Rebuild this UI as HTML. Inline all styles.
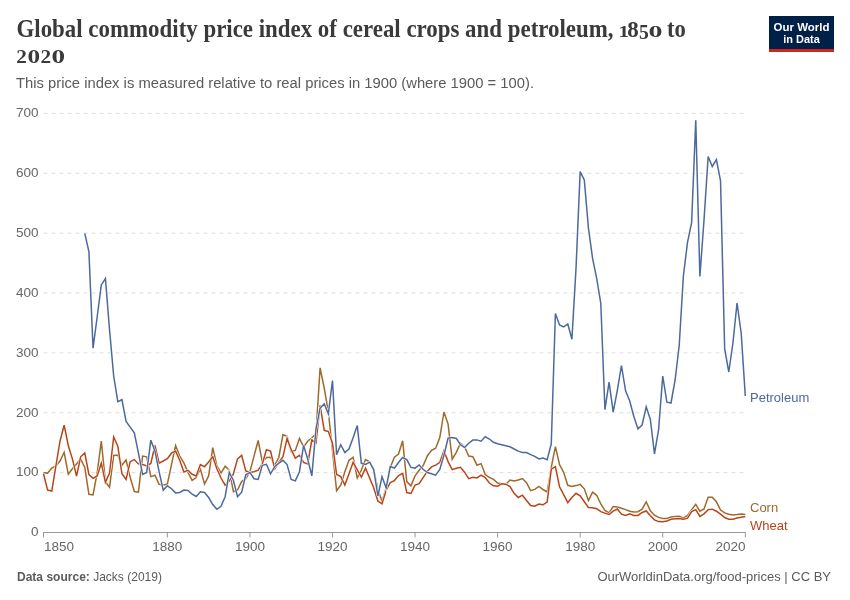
<!DOCTYPE html>
<html><head><meta charset="utf-8">
<style>
html,body{margin:0;padding:0;background:#fff;}
body{width:850px;height:600px;overflow:hidden;position:relative;}
svg{position:absolute;left:0;top:0;will-change:transform;}
.t{font-family:"Liberation Serif",serif;font-weight:bold;fill:#3a3a3a;}
.s{font-family:"Liberation Sans",sans-serif;}
</style></head><body>
<svg width="850" height="600" viewBox="0 0 850 600">
<text class="t" x="16.5" y="36.6" font-size="24.5" textLength="597" lengthAdjust="spacingAndGlyphs">Global commodity price index of cereal crops and petroleum,</text>
<text class="t" x="618.6" y="36.6" font-size="17.5" textLength="10.5" lengthAdjust="spacingAndGlyphs">1</text>
<text class="t" x="627.3" y="36.6" font-size="23.7" textLength="11.5" lengthAdjust="spacingAndGlyphs">8</text>
<text class="t" x="639" y="39.4" font-size="21" textLength="9.8" lengthAdjust="spacingAndGlyphs">5</text>
<text class="t" x="648.5" y="36.6" font-size="17.5" textLength="14" lengthAdjust="spacingAndGlyphs">0</text>
<text class="t" x="667" y="36.6" font-size="24.5" textLength="18.8" lengthAdjust="spacingAndGlyphs">to</text>
<text class="t" x="16.3" y="63" font-size="18" textLength="10.6" lengthAdjust="spacingAndGlyphs">2</text>
<text class="t" x="27.6" y="63" font-size="18" textLength="12.6" lengthAdjust="spacingAndGlyphs">0</text>
<text class="t" x="40.6" y="63" font-size="18" textLength="10.6" lengthAdjust="spacingAndGlyphs">2</text>
<text class="t" x="51.4" y="63" font-size="18" textLength="13.6" lengthAdjust="spacingAndGlyphs">0</text>
<text class="s" x="16" y="87.6" font-size="14" fill="#5b5b5b" textLength="518" lengthAdjust="spacingAndGlyphs">This price index is measured relative to real prices in 1900 (where 1900 = 100).</text>
<g>
<rect x="769" y="16" width="65" height="36" fill="#002147"/>
<rect x="769" y="49" width="65" height="3" fill="#ce261e"/>
<text class="s" x="773.6" y="30.8" font-size="11.5" font-weight="bold" fill="#fff" textLength="55.8" lengthAdjust="spacingAndGlyphs">Our World</text>
<text class="s" x="783.2" y="42.7" font-size="11.5" font-weight="bold" fill="#fff" textLength="36.6" lengthAdjust="spacingAndGlyphs">in Data</text>
</g>
<g><line x1="43.5" x2="745.3" y1="472.63" y2="472.63" stroke="#dddddd" stroke-width="1" stroke-dasharray="4,4"/><line x1="43.5" x2="745.3" y1="412.76" y2="412.76" stroke="#dddddd" stroke-width="1" stroke-dasharray="4,4"/><line x1="43.5" x2="745.3" y1="352.89" y2="352.89" stroke="#dddddd" stroke-width="1" stroke-dasharray="4,4"/><line x1="43.5" x2="745.3" y1="293.01" y2="293.01" stroke="#dddddd" stroke-width="1" stroke-dasharray="4,4"/><line x1="43.5" x2="745.3" y1="233.14" y2="233.14" stroke="#dddddd" stroke-width="1" stroke-dasharray="4,4"/><line x1="43.5" x2="745.3" y1="173.27" y2="173.27" stroke="#dddddd" stroke-width="1" stroke-dasharray="4,4"/><line x1="43.5" x2="745.3" y1="113.40" y2="113.40" stroke="#dddddd" stroke-width="1" stroke-dasharray="4,4"/></g>
<line x1="43" x2="745.8" y1="532.5" y2="532.5" stroke="#999" stroke-width="1"/>
<g><line x1="43.50" x2="43.50" y1="532.5" y2="537.5" stroke="#999" stroke-width="1"/><line x1="167.35" x2="167.35" y1="532.5" y2="537.5" stroke="#999" stroke-width="1"/><line x1="249.91" x2="249.91" y1="532.5" y2="537.5" stroke="#999" stroke-width="1"/><line x1="332.48" x2="332.48" y1="532.5" y2="537.5" stroke="#999" stroke-width="1"/><line x1="415.04" x2="415.04" y1="532.5" y2="537.5" stroke="#999" stroke-width="1"/><line x1="497.61" x2="497.61" y1="532.5" y2="537.5" stroke="#999" stroke-width="1"/><line x1="580.17" x2="580.17" y1="532.5" y2="537.5" stroke="#999" stroke-width="1"/><line x1="662.74" x2="662.74" y1="532.5" y2="537.5" stroke="#999" stroke-width="1"/><line x1="745.30" x2="745.30" y1="532.5" y2="537.5" stroke="#999" stroke-width="1"/></g>
<g class="s" font-size="13.5" fill="#666"><text x="38.5" y="536.30" text-anchor="end">0</text><text x="38.5" y="476.43" text-anchor="end">100</text><text x="38.5" y="416.56" text-anchor="end">200</text><text x="38.5" y="356.69" text-anchor="end">300</text><text x="38.5" y="296.81" text-anchor="end">400</text><text x="38.5" y="236.94" text-anchor="end">500</text><text x="38.5" y="177.07" text-anchor="end">600</text><text x="38.5" y="117.20" text-anchor="end">700</text><text x="167.35" y="550.5" text-anchor="middle">1880</text><text x="249.91" y="550.5" text-anchor="middle">1900</text><text x="332.48" y="550.5" text-anchor="middle">1920</text><text x="415.04" y="550.5" text-anchor="middle">1940</text><text x="497.61" y="550.5" text-anchor="middle">1960</text><text x="580.17" y="550.5" text-anchor="middle">1980</text><text x="662.74" y="550.5" text-anchor="middle">2000</text><text x="44" y="550.5" text-anchor="start">1850</text><text x="745.5" y="550.5" text-anchor="end">2020</text></g>
<g fill="none" stroke-width="1.5" stroke-linejoin="miter" stroke-linecap="butt">
<polyline points="43.50,472.80 47.63,473.10 51.76,468.10 55.88,466.00 60.01,461.00 64.14,452.30 68.27,474.20 72.40,468.80 76.53,463.90 80.65,458.90 84.78,467.40 88.91,494.30 93.04,495.00 97.17,473.00 101.30,441.20 105.42,481.60 109.55,487.20 113.68,455.40 117.81,455.10 121.94,465.30 126.06,460.00 130.19,477.30 134.32,491.50 138.45,492.20 142.58,456.10 146.71,456.80 150.83,476.60 154.96,475.20 159.09,484.40 163.22,485.10 167.35,484.10 171.48,464.60 175.60,445.50 179.73,456.10 183.86,462.90 187.99,472.40 192.12,480.40 196.24,477.60 200.37,469.00 204.50,484.00 208.63,475.90 212.76,447.60 216.89,466.00 221.01,473.10 225.14,466.30 229.27,470.20 233.40,491.70 237.53,490.00 241.66,481.60 245.78,478.70 249.91,471.70 254.04,456.10 258.17,440.50 262.30,462.00 266.42,457.50 270.55,457.20 274.68,465.30 278.81,457.50 282.94,434.80 287.07,436.20 291.19,451.50 295.32,450.40 299.45,438.40 303.58,446.90 307.71,441.20 311.84,437.70 315.96,434.00 320.09,367.80 324.22,388.00 328.35,412.00 332.48,450.40 336.60,490.80 340.73,485.10 344.86,471.70 348.99,460.30 353.12,457.30 357.25,478.00 361.37,470.00 365.50,459.50 369.63,461.80 373.76,470.00 377.89,489.00 382.02,501.50 386.14,488.00 390.27,467.50 394.40,457.20 398.53,454.00 402.66,440.80 406.78,481.60 410.91,485.80 415.04,475.90 419.17,470.20 423.30,465.30 427.43,455.70 431.55,450.30 435.68,448.20 439.81,437.50 443.94,412.00 448.07,424.10 452.20,459.20 456.32,452.40 460.45,443.20 464.58,446.70 468.71,456.00 472.84,456.70 476.96,465.20 481.09,463.60 485.22,474.50 489.35,477.30 493.48,479.40 497.61,483.00 501.73,483.70 505.86,484.40 509.99,480.00 514.12,481.00 518.25,480.00 522.38,478.50 526.50,482.70 530.63,490.60 534.76,489.40 538.89,486.50 543.02,489.50 547.14,492.00 551.27,467.30 555.40,446.70 559.53,464.60 563.66,472.30 567.79,485.30 571.91,486.50 576.04,485.60 580.17,484.40 584.30,488.80 588.43,500.50 592.56,492.10 596.68,495.30 600.81,504.00 604.94,510.50 609.07,513.00 613.20,506.50 617.32,507.10 621.45,508.30 625.58,509.60 629.71,511.25 633.84,512.10 637.97,511.70 642.09,509.20 646.22,501.80 650.35,510.80 654.48,515.20 658.61,517.40 662.74,518.40 666.86,518.50 670.99,517.10 675.12,516.50 679.25,516.25 683.38,517.90 687.50,515.40 691.63,509.60 695.76,504.30 699.89,511.25 704.02,509.00 708.15,497.30 712.27,497.30 716.40,501.80 720.53,510.00 724.66,512.90 728.79,514.20 732.92,515.00 737.04,514.60 741.17,514.00 745.30,514.60" stroke="#fff" stroke-width="2.5"/>
<polyline points="43.50,472.80 47.63,473.10 51.76,468.10 55.88,466.00 60.01,461.00 64.14,452.30 68.27,474.20 72.40,468.80 76.53,463.90 80.65,458.90 84.78,467.40 88.91,494.30 93.04,495.00 97.17,473.00 101.30,441.20 105.42,481.60 109.55,487.20 113.68,455.40 117.81,455.10 121.94,465.30 126.06,460.00 130.19,477.30 134.32,491.50 138.45,492.20 142.58,456.10 146.71,456.80 150.83,476.60 154.96,475.20 159.09,484.40 163.22,485.10 167.35,484.10 171.48,464.60 175.60,445.50 179.73,456.10 183.86,462.90 187.99,472.40 192.12,480.40 196.24,477.60 200.37,469.00 204.50,484.00 208.63,475.90 212.76,447.60 216.89,466.00 221.01,473.10 225.14,466.30 229.27,470.20 233.40,491.70 237.53,490.00 241.66,481.60 245.78,478.70 249.91,471.70 254.04,456.10 258.17,440.50 262.30,462.00 266.42,457.50 270.55,457.20 274.68,465.30 278.81,457.50 282.94,434.80 287.07,436.20 291.19,451.50 295.32,450.40 299.45,438.40 303.58,446.90 307.71,441.20 311.84,437.70 315.96,434.00 320.09,367.80 324.22,388.00 328.35,412.00 332.48,450.40 336.60,490.80 340.73,485.10 344.86,471.70 348.99,460.30 353.12,457.30 357.25,478.00 361.37,470.00 365.50,459.50 369.63,461.80 373.76,470.00 377.89,489.00 382.02,501.50 386.14,488.00 390.27,467.50 394.40,457.20 398.53,454.00 402.66,440.80 406.78,481.60 410.91,485.80 415.04,475.90 419.17,470.20 423.30,465.30 427.43,455.70 431.55,450.30 435.68,448.20 439.81,437.50 443.94,412.00 448.07,424.10 452.20,459.20 456.32,452.40 460.45,443.20 464.58,446.70 468.71,456.00 472.84,456.70 476.96,465.20 481.09,463.60 485.22,474.50 489.35,477.30 493.48,479.40 497.61,483.00 501.73,483.70 505.86,484.40 509.99,480.00 514.12,481.00 518.25,480.00 522.38,478.50 526.50,482.70 530.63,490.60 534.76,489.40 538.89,486.50 543.02,489.50 547.14,492.00 551.27,467.30 555.40,446.70 559.53,464.60 563.66,472.30 567.79,485.30 571.91,486.50 576.04,485.60 580.17,484.40 584.30,488.80 588.43,500.50 592.56,492.10 596.68,495.30 600.81,504.00 604.94,510.50 609.07,513.00 613.20,506.50 617.32,507.10 621.45,508.30 625.58,509.60 629.71,511.25 633.84,512.10 637.97,511.70 642.09,509.20 646.22,501.80 650.35,510.80 654.48,515.20 658.61,517.40 662.74,518.40 666.86,518.50 670.99,517.10 675.12,516.50 679.25,516.25 683.38,517.90 687.50,515.40 691.63,509.60 695.76,504.30 699.89,511.25 704.02,509.00 708.15,497.30 712.27,497.30 716.40,501.80 720.53,510.00 724.66,512.90 728.79,514.20 732.92,515.00 737.04,514.60 741.17,514.00 745.30,514.60" stroke="#9e6a2c"/>
<polyline points="43.50,473.70 47.63,490.10 51.76,491.10 55.88,466.00 60.01,441.20 64.14,425.20 68.27,445.50 72.40,458.90 76.53,476.20 80.65,456.80 84.78,453.00 88.91,474.50 93.04,478.30 97.17,475.90 101.30,463.20 105.42,482.30 109.55,473.10 113.68,437.00 117.81,446.20 121.94,473.80 126.06,479.40 130.19,461.70 134.32,459.60 138.45,463.90 142.58,464.60 146.71,466.00 150.83,463.50 154.96,445.50 159.09,463.20 163.22,461.00 167.35,458.60 171.48,453.20 175.60,451.10 179.73,460.30 183.86,472.00 187.99,470.30 192.12,474.30 196.24,475.90 200.37,464.60 204.50,466.70 208.63,462.00 212.76,456.80 216.89,468.80 221.01,478.00 225.14,485.20 229.27,481.00 233.40,474.00 237.53,458.90 241.66,455.40 245.78,471.00 249.91,472.40 254.04,471.70 258.17,470.20 262.30,463.90 266.42,449.70 270.55,451.10 274.68,468.80 278.81,462.50 282.94,456.80 287.07,438.40 291.19,449.70 295.32,458.20 299.45,455.40 303.58,462.50 307.71,463.90 311.84,439.80 315.96,443.00 320.09,405.30 324.22,430.30 328.35,431.60 332.48,443.30 336.60,474.50 340.73,476.60 344.86,485.10 348.99,473.80 353.12,462.30 357.25,469.80 361.37,477.00 365.50,468.10 369.63,478.00 373.76,488.00 377.89,501.00 382.02,503.90 386.14,490.20 390.27,482.60 394.40,480.60 398.53,475.60 402.66,473.40 406.78,492.60 410.91,493.50 415.04,485.10 419.17,483.70 423.30,477.30 427.43,471.20 431.55,466.90 435.68,465.20 439.81,462.30 443.94,450.80 448.07,461.60 452.20,469.70 456.32,468.30 460.45,467.30 464.58,472.20 468.71,478.60 472.84,477.20 476.96,477.90 481.09,475.20 485.22,477.60 489.35,483.00 493.48,485.80 497.61,486.20 501.73,483.70 505.86,484.20 509.99,486.50 514.12,493.30 518.25,497.50 522.38,495.20 526.50,500.50 530.63,505.50 534.76,506.20 538.89,504.00 543.02,504.80 547.14,502.00 551.27,469.20 555.40,466.70 559.53,486.80 563.66,494.70 567.79,502.60 571.91,497.60 576.04,493.30 580.17,495.80 584.30,501.70 588.43,507.50 592.56,507.70 596.68,508.70 600.81,511.60 604.94,513.10 609.07,514.50 613.20,511.10 617.32,509.00 621.45,514.20 625.58,515.40 629.71,513.75 633.84,515.40 637.97,515.40 642.09,512.50 646.22,511.00 650.35,515.80 654.48,519.90 658.61,521.60 662.74,521.80 666.86,521.00 670.99,519.20 675.12,518.75 679.25,518.50 683.38,519.30 687.50,518.20 691.63,511.50 695.76,509.60 699.89,516.40 704.02,513.80 708.15,509.60 712.27,509.20 716.40,511.25 720.53,514.20 724.66,517.50 728.79,519.20 732.92,519.20 737.04,518.00 741.17,517.30 745.30,516.50" stroke="#fff" stroke-width="2.5"/>
<polyline points="43.50,473.70 47.63,490.10 51.76,491.10 55.88,466.00 60.01,441.20 64.14,425.20 68.27,445.50 72.40,458.90 76.53,476.20 80.65,456.80 84.78,453.00 88.91,474.50 93.04,478.30 97.17,475.90 101.30,463.20 105.42,482.30 109.55,473.10 113.68,437.00 117.81,446.20 121.94,473.80 126.06,479.40 130.19,461.70 134.32,459.60 138.45,463.90 142.58,464.60 146.71,466.00 150.83,463.50 154.96,445.50 159.09,463.20 163.22,461.00 167.35,458.60 171.48,453.20 175.60,451.10 179.73,460.30 183.86,472.00 187.99,470.30 192.12,474.30 196.24,475.90 200.37,464.60 204.50,466.70 208.63,462.00 212.76,456.80 216.89,468.80 221.01,478.00 225.14,485.20 229.27,481.00 233.40,474.00 237.53,458.90 241.66,455.40 245.78,471.00 249.91,472.40 254.04,471.70 258.17,470.20 262.30,463.90 266.42,449.70 270.55,451.10 274.68,468.80 278.81,462.50 282.94,456.80 287.07,438.40 291.19,449.70 295.32,458.20 299.45,455.40 303.58,462.50 307.71,463.90 311.84,439.80 315.96,443.00 320.09,405.30 324.22,430.30 328.35,431.60 332.48,443.30 336.60,474.50 340.73,476.60 344.86,485.10 348.99,473.80 353.12,462.30 357.25,469.80 361.37,477.00 365.50,468.10 369.63,478.00 373.76,488.00 377.89,501.00 382.02,503.90 386.14,490.20 390.27,482.60 394.40,480.60 398.53,475.60 402.66,473.40 406.78,492.60 410.91,493.50 415.04,485.10 419.17,483.70 423.30,477.30 427.43,471.20 431.55,466.90 435.68,465.20 439.81,462.30 443.94,450.80 448.07,461.60 452.20,469.70 456.32,468.30 460.45,467.30 464.58,472.20 468.71,478.60 472.84,477.20 476.96,477.90 481.09,475.20 485.22,477.60 489.35,483.00 493.48,485.80 497.61,486.20 501.73,483.70 505.86,484.20 509.99,486.50 514.12,493.30 518.25,497.50 522.38,495.20 526.50,500.50 530.63,505.50 534.76,506.20 538.89,504.00 543.02,504.80 547.14,502.00 551.27,469.20 555.40,466.70 559.53,486.80 563.66,494.70 567.79,502.60 571.91,497.60 576.04,493.30 580.17,495.80 584.30,501.70 588.43,507.50 592.56,507.70 596.68,508.70 600.81,511.60 604.94,513.10 609.07,514.50 613.20,511.10 617.32,509.00 621.45,514.20 625.58,515.40 629.71,513.75 633.84,515.40 637.97,515.40 642.09,512.50 646.22,511.00 650.35,515.80 654.48,519.90 658.61,521.60 662.74,521.80 666.86,521.00 670.99,519.20 675.12,518.75 679.25,518.50 683.38,519.30 687.50,518.20 691.63,511.50 695.76,509.60 699.89,516.40 704.02,513.80 708.15,509.60 712.27,509.20 716.40,511.25 720.53,514.20 724.66,517.50 728.79,519.20 732.92,519.20 737.04,518.00 741.17,517.30 745.30,516.50" stroke="#b8441a"/>
<polyline points="84.78,233.40 88.91,251.50 93.04,348.10 97.17,317.00 101.30,284.90 105.42,278.50 109.55,330.00 113.68,376.00 117.81,401.70 121.94,399.70 126.06,421.50 130.19,427.10 134.32,432.80 138.45,453.20 142.58,474.50 146.71,472.40 150.83,440.20 154.96,451.00 159.09,471.70 163.22,490.10 167.35,485.80 171.48,488.70 175.60,492.90 179.73,492.50 183.86,490.00 187.99,490.40 192.12,494.20 196.24,496.50 200.37,491.80 204.50,492.50 208.63,497.50 212.76,504.60 216.89,509.30 221.01,506.30 225.14,496.70 229.27,472.30 233.40,480.50 237.53,496.80 241.66,492.20 245.78,474.80 249.91,472.40 254.04,478.70 258.17,479.40 262.30,465.30 266.42,464.30 270.55,473.80 274.68,466.70 278.81,463.20 282.94,460.30 287.07,464.60 291.19,479.40 295.32,480.90 299.45,471.70 303.58,445.50 307.71,459.00 311.84,475.90 315.96,429.00 320.09,408.20 324.22,403.90 328.35,413.80 332.48,380.50 336.60,454.70 340.73,444.70 344.86,452.50 348.99,449.00 353.12,437.70 357.25,425.60 361.37,463.30 365.50,464.50 369.63,462.20 373.76,469.80 377.89,496.00 382.02,476.70 386.14,487.90 390.27,466.60 394.40,468.00 398.53,462.50 402.66,457.50 406.78,459.60 410.91,467.40 415.04,468.10 419.17,464.90 423.30,469.50 427.43,472.50 431.55,473.70 435.68,475.10 439.81,469.40 443.94,455.20 448.07,438.20 452.20,437.50 456.32,438.50 460.45,444.60 464.58,447.50 468.71,443.20 472.84,440.10 476.96,439.90 481.09,441.20 485.22,436.60 489.35,439.00 493.48,442.30 497.61,443.70 501.73,444.70 505.86,445.70 509.99,446.80 514.12,449.00 518.25,451.10 522.38,452.50 526.50,452.50 530.63,454.60 534.76,456.30 538.89,459.00 543.02,458.10 547.14,459.80 551.27,443.90 555.40,313.40 559.53,325.00 563.66,326.90 567.79,324.00 571.91,339.20 576.04,268.00 580.17,171.60 584.30,179.90 588.43,228.00 592.56,258.30 596.68,278.30 600.81,303.50 604.94,409.70 609.07,382.20 613.20,412.20 617.32,390.30 621.45,365.50 625.58,390.80 629.71,401.00 633.84,416.50 637.97,428.90 642.09,425.00 646.22,406.80 650.35,419.50 654.48,453.90 658.61,429.60 662.74,376.00 666.86,402.20 670.99,403.00 675.12,380.00 679.25,345.00 683.38,276.00 687.50,242.40 691.63,222.60 695.76,120.20 699.89,276.50 704.02,220.00 708.15,156.50 712.27,166.50 716.40,159.50 720.53,180.80 724.66,349.00 728.79,372.00 732.92,343.00 737.04,303.00 741.17,333.00 745.30,396.00" stroke="#fff" stroke-width="2.5"/>
<polyline points="84.78,233.40 88.91,251.50 93.04,348.10 97.17,317.00 101.30,284.90 105.42,278.50 109.55,330.00 113.68,376.00 117.81,401.70 121.94,399.70 126.06,421.50 130.19,427.10 134.32,432.80 138.45,453.20 142.58,474.50 146.71,472.40 150.83,440.20 154.96,451.00 159.09,471.70 163.22,490.10 167.35,485.80 171.48,488.70 175.60,492.90 179.73,492.50 183.86,490.00 187.99,490.40 192.12,494.20 196.24,496.50 200.37,491.80 204.50,492.50 208.63,497.50 212.76,504.60 216.89,509.30 221.01,506.30 225.14,496.70 229.27,472.30 233.40,480.50 237.53,496.80 241.66,492.20 245.78,474.80 249.91,472.40 254.04,478.70 258.17,479.40 262.30,465.30 266.42,464.30 270.55,473.80 274.68,466.70 278.81,463.20 282.94,460.30 287.07,464.60 291.19,479.40 295.32,480.90 299.45,471.70 303.58,445.50 307.71,459.00 311.84,475.90 315.96,429.00 320.09,408.20 324.22,403.90 328.35,413.80 332.48,380.50 336.60,454.70 340.73,444.70 344.86,452.50 348.99,449.00 353.12,437.70 357.25,425.60 361.37,463.30 365.50,464.50 369.63,462.20 373.76,469.80 377.89,496.00 382.02,476.70 386.14,487.90 390.27,466.60 394.40,468.00 398.53,462.50 402.66,457.50 406.78,459.60 410.91,467.40 415.04,468.10 419.17,464.90 423.30,469.50 427.43,472.50 431.55,473.70 435.68,475.10 439.81,469.40 443.94,455.20 448.07,438.20 452.20,437.50 456.32,438.50 460.45,444.60 464.58,447.50 468.71,443.20 472.84,440.10 476.96,439.90 481.09,441.20 485.22,436.60 489.35,439.00 493.48,442.30 497.61,443.70 501.73,444.70 505.86,445.70 509.99,446.80 514.12,449.00 518.25,451.10 522.38,452.50 526.50,452.50 530.63,454.60 534.76,456.30 538.89,459.00 543.02,458.10 547.14,459.80 551.27,443.90 555.40,313.40 559.53,325.00 563.66,326.90 567.79,324.00 571.91,339.20 576.04,268.00 580.17,171.60 584.30,179.90 588.43,228.00 592.56,258.30 596.68,278.30 600.81,303.50 604.94,409.70 609.07,382.20 613.20,412.20 617.32,390.30 621.45,365.50 625.58,390.80 629.71,401.00 633.84,416.50 637.97,428.90 642.09,425.00 646.22,406.80 650.35,419.50 654.48,453.90 658.61,429.60 662.74,376.00 666.86,402.20 670.99,403.00 675.12,380.00 679.25,345.00 683.38,276.00 687.50,242.40 691.63,222.60 695.76,120.20 699.89,276.50 704.02,220.00 708.15,156.50 712.27,166.50 716.40,159.50 720.53,180.80 724.66,349.00 728.79,372.00 732.92,343.00 737.04,303.00 741.17,333.00 745.30,396.00" stroke="#4c6a9c"/>
</g>
<g class="s" font-size="13">
<text x="750" y="401.5" fill="#4c6a9c">Petroleum</text>
<text x="750" y="511.7" fill="#9e6a2c">Corn</text>
<text x="750" y="529.7" fill="#b8441a">Wheat</text>
</g>
<g class="s" font-size="13" fill="#5b5b5b">
<text x="17" y="581.2" textLength="145" lengthAdjust="spacingAndGlyphs"><tspan font-weight="bold">Data source:</tspan> Jacks (2019)</text>
<text x="831" y="581.2" text-anchor="end">OurWorldinData.org/food-prices | CC BY</text>
</g>
</svg>
</body></html>
